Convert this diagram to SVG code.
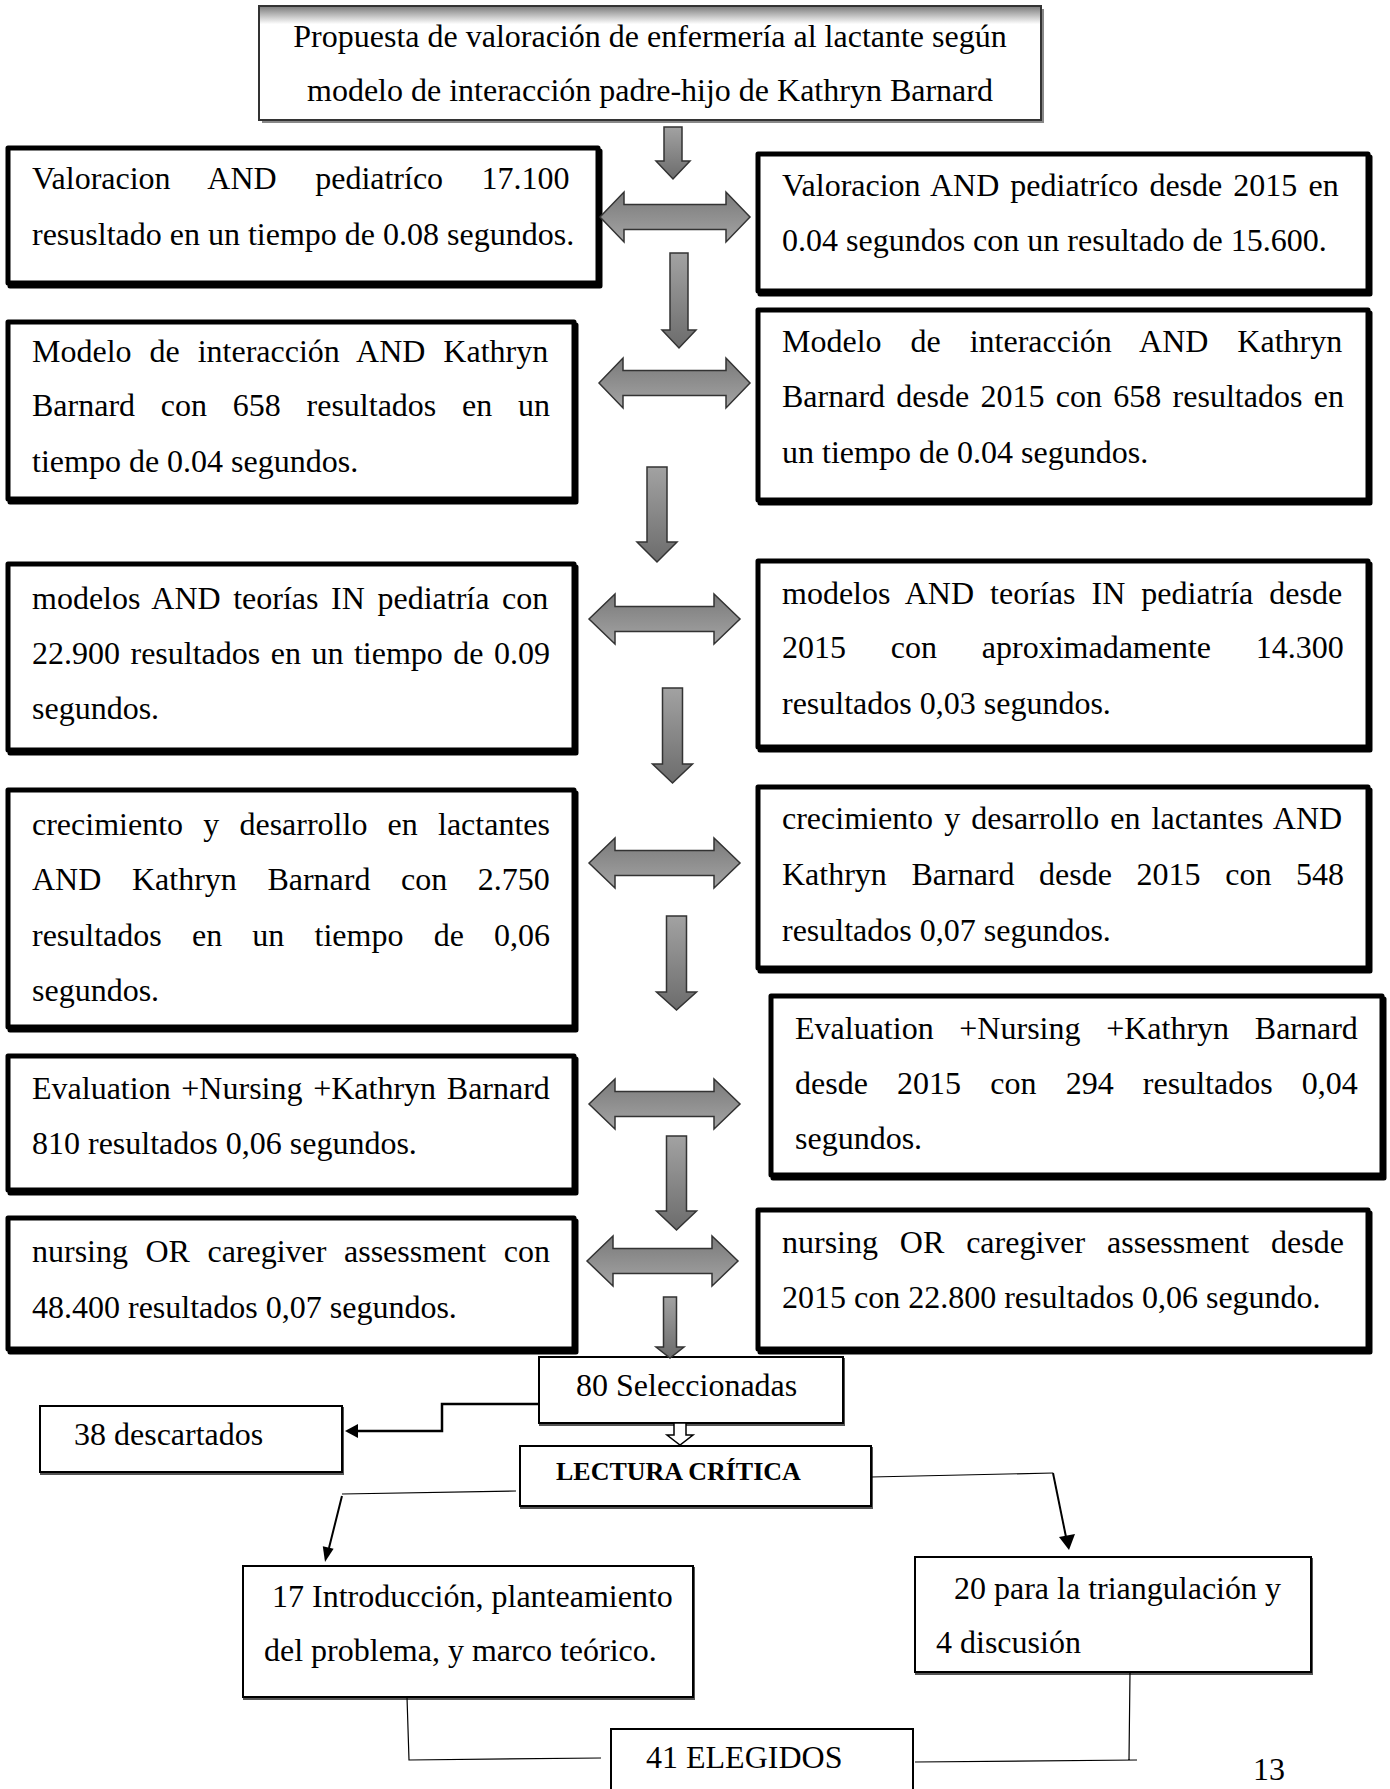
<svg xmlns="http://www.w3.org/2000/svg" width="1390" height="1789" viewBox="0 0 1390 1789">
<defs>
<linearGradient id="gv" x1="0" y1="0" x2="0" y2="1"><stop offset="0" stop-color="#a2a2a2"/><stop offset="1" stop-color="#6c6c6c"/></linearGradient>
<linearGradient id="gh" x1="0" y1="0" x2="0" y2="1"><stop offset="0" stop-color="#7a7a7a"/><stop offset="1" stop-color="#a4a4a4"/></linearGradient>
<linearGradient id="gtop" x1="0" y1="0" x2="0" y2="1"><stop offset="0" stop-color="#7a7a7a"/><stop offset="0.16" stop-color="#ffffff"/><stop offset="1" stop-color="#ffffff"/></linearGradient>
</defs>
<style>
.t{font-family:"Liberation Serif","Times New Roman",serif;font-size:32px;fill:#000}
.tbold{font-family:"Liberation Serif","Times New Roman",serif;font-size:26px;font-weight:bold;fill:#000}
.b{fill:#fff;stroke:#000;stroke-width:5;stroke-linejoin:round}
.sh{fill:none;stroke:#000;stroke-width:5;stroke-linejoin:round}
.tb{fill:#fff;stroke:#000;stroke-width:2}
.tsh{fill:none;stroke:#555;stroke-width:2}
.ar{fill:url(#gv);stroke:#333;stroke-width:1.5}
.da{fill:url(#gh);stroke:#333;stroke-width:1.5}
.ln{fill:none;stroke:#000;stroke-width:1.2}
.lna{fill:none;stroke:#000;stroke-width:2}
.lnb{fill:none;stroke:#000;stroke-width:2.5}
.hd{fill:#000}
</style>

<g id="title">
<rect x="262" y="9" width="782" height="114" fill="#888"/>
<rect x="259" y="6" width="782" height="114" fill="url(#gtop)" stroke="#333" stroke-width="2"/>
<text class="t" x="650" y="47" text-anchor="middle">Propuesta de valoración de enfermería al lactante según</text>
<text class="t" x="650" y="101" text-anchor="middle">modelo de interacción padre-hijo de Kathryn Barnard</text>
</g>

<g id="L1">
<rect class="sh" x="10" y="151" width="590" height="135"/>
<rect class="b" x="8" y="148" width="590" height="135"/>
<text class="t" x="32" y="189" word-spacing="30.5">Valoracion AND pediatríco 17.100</text>
<text class="t" x="32" y="245">resusltado en un tiempo de 0.08 segundos.</text>
</g>
<g id="R1">
<rect class="sh" x="760" y="157" width="610" height="137"/>
<rect class="b" x="758" y="154" width="610" height="137"/>
<text class="t" x="782" y="196" word-spacing="3.1">Valoracion AND pediatríco desde 2015 en</text>
<text class="t" x="782" y="251">0.04 segundos con un resultado de 15.600.</text>
</g>
<g id="L2">
<rect class="sh" x="10" y="325" width="566" height="177"/>
<rect class="b" x="8" y="322" width="566" height="177"/>
<text class="t" x="32" y="362" word-spacing="9.97">Modelo de interacción AND Kathryn</text>
<text class="t" x="32" y="416" word-spacing="17.76">Barnard con 658 resultados en un</text>
<text class="t" x="32" y="472">tiempo de 0.04 segundos.</text>
</g>
<g id="R2">
<rect class="sh" x="760" y="313" width="610" height="190"/>
<rect class="b" x="758" y="310" width="610" height="190"/>
<text class="t" x="782" y="352" word-spacing="20.97">Modelo de interacción AND Kathryn</text>
<text class="t" x="782" y="407" word-spacing="3.3">Barnard desde 2015 con 658 resultados en</text>
<text class="t" x="782" y="463">un tiempo de 0.04 segundos.</text>
</g>
<g id="L3">
<rect class="sh" x="10" y="567" width="566" height="186"/>
<rect class="b" x="8" y="564" width="566" height="186"/>
<text class="t" x="32" y="609" word-spacing="4.6">modelos AND teorías IN pediatría con</text>
<text class="t" x="32" y="664" word-spacing="2.5">22.900 resultados en un tiempo de 0.09</text>
<text class="t" x="32" y="719">segundos.</text>
</g>
<g id="R3">
<rect class="sh" x="760" y="564" width="610" height="186"/>
<rect class="b" x="758" y="561" width="610" height="186"/>
<text class="t" x="782" y="604" word-spacing="8.06">modelos AND teorías IN pediatría desde</text>
<text class="t" x="782" y="658" word-spacing="36.8">2015 con aproximadamente 14.300</text>
<text class="t" x="782" y="714">resultados 0,03 segundos.</text>
</g>
<g id="L4">
<rect class="sh" x="10" y="793" width="566" height="237"/>
<rect class="b" x="8" y="790" width="566" height="237"/>
<text class="t" x="32" y="835" word-spacing="12.2">crecimiento y desarrollo en lactantes</text>
<text class="t" x="32" y="890" word-spacing="22.6">AND Kathryn Barnard con 2.750</text>
<text class="t" x="32" y="946" word-spacing="22.2">resultados en un tiempo de 0,06</text>
<text class="t" x="32" y="1001">segundos.</text>
</g>
<g id="R4">
<rect class="sh" x="760" y="790" width="610" height="181"/>
<rect class="b" x="758" y="787" width="610" height="181"/>
<text class="t" x="782" y="829" word-spacing="3.1">crecimiento y desarrollo en lactantes AND</text>
<text class="t" x="782" y="885" word-spacing="16.6">Kathryn Barnard desde 2015 con 548</text>
<text class="t" x="782" y="941">resultados 0,07 segundos.</text>
</g>
<g id="L5">
<rect class="sh" x="10" y="1059" width="566" height="134"/>
<rect class="b" x="8" y="1056" width="566" height="134"/>
<text class="t" x="32" y="1099" word-spacing="2.7">Evaluation +Nursing +Kathryn Barnard</text>
<text class="t" x="32" y="1154">810 resultados 0,06 segundos.</text>
</g>
<g id="R5">
<rect class="sh" x="773" y="999" width="611" height="179"/>
<rect class="b" x="771" y="996" width="611" height="179"/>
<text class="t" x="795" y="1039" word-spacing="17.7">Evaluation +Nursing +Kathryn Barnard</text>
<text class="t" x="795" y="1094" word-spacing="21.2">desde 2015 con 294 resultados 0,04</text>
<text class="t" x="795" y="1149">segundos.</text>
</g>
<g id="L6">
<rect class="sh" x="10" y="1221" width="566" height="131"/>
<rect class="b" x="8" y="1218" width="566" height="131"/>
<text class="t" x="32" y="1262" word-spacing="9.5">nursing OR caregiver assessment con</text>
<text class="t" x="32" y="1318">48.400 resultados 0,07 segundos.</text>
</g>
<g id="R6">
<rect class="sh" x="760" y="1213" width="610" height="139"/>
<rect class="b" x="758" y="1210" width="610" height="139"/>
<text class="t" x="782" y="1253" word-spacing="13.85">nursing OR caregiver assessment desde</text>
<text class="t" x="782" y="1308">2015 con 22.800 resultados 0,06 segundo.</text>
</g>

<g id="seleccionadas">
<rect class="tsh" x="540" y="1359" width="304" height="66"/>
<rect class="tb" x="539" y="1357" width="304" height="66"/>
<text class="t" x="576" y="1396">80 Seleccionadas</text>
</g>
<g id="descartados">
<rect class="tsh" x="41" y="1408" width="302" height="66"/>
<rect class="tb" x="40" y="1406" width="302" height="66"/>
<text class="t" x="74" y="1445">38 descartados</text>
</g>
<g id="lectura">
<rect class="tsh" x="521" y="1448" width="351" height="60"/>
<rect class="tb" x="520" y="1446" width="351" height="60"/>
<text class="tbold" x="556" y="1480">LECTURA CRÍTICA</text>
</g>
<g id="introduccion">
<rect class="tsh" x="244" y="1568" width="450" height="131"/>
<rect class="tb" x="243" y="1566" width="450" height="131"/>
<text class="t" x="272" y="1607">17 Introducción, planteamiento</text>
<text class="t" x="264" y="1661">del problema, y marco teórico.</text>
</g>
<g id="triangulacion">
<rect class="tsh" x="916" y="1559" width="396" height="115"/>
<rect class="tb" x="915" y="1557" width="396" height="115"/>
<text class="t" x="954" y="1599">20 para la triangulación y</text>
<text class="t" x="936" y="1653">4 discusión</text>
</g>
<g id="elegidos">
<rect class="tb" x="611" y="1729" width="302" height="80"/>
<text class="t" x="646" y="1768">41 ELEGIDOS</text>
</g>
<g id="page">
<text class="t" x="1253" y="1780">13</text>
</g>

<g id="connectors">
<path class="ar" d="M664 127 H682 V161 H690 L673 179 L656 161 H664 Z"/>
<path class="ar" d="M670 253 H688 V330 H696 L679 348 L662 330 H670 Z"/>
<path class="ar" d="M647 467 H667 V542 H677 L657 562 L637 542 H647 Z"/>
<path class="ar" d="M662.5 688 H682.5 V764 H692.5 L672.5 783 L652.5 764 H662.5 Z"/>
<path class="ar" d="M666.5 916 H686.5 V992 H696.5 L676.5 1010 L656.5 992 H666.5 Z"/>
<path class="ar" d="M666.5 1136 H686.5 V1211 H696.5 L676.5 1230 L656.5 1211 H666.5 Z"/>
<path class="ar" d="M663.5 1297 H676.5 V1347 H684 L670 1358 L656 1347 H663.5 Z"/>

<path class="da" d="M600 217 L624 192 V204.5 H726 V192 L750 217 L726 242 V229.5 H624 V242 Z"/>
<path class="da" d="M599 383 L623 358 V370.5 H726 V358 L750 383 L726 408 V395.5 H623 V408 Z"/>
<path class="da" d="M589 619 L615 594 V606.5 H714 V594 L740 619 L714 644 V631.5 H615 V644 Z"/>
<path class="da" d="M589 863 L615 838 V850.5 H714 V838 L740 863 L714 888 V875.5 H615 V888 Z"/>
<path class="da" d="M589 1104 L615 1079 V1091.5 H714 V1079 L740 1104 L714 1129 V1116.5 H615 V1129 Z"/>
<path class="da" d="M587 1261 L613 1236 V1248.5 H712 V1236 L738 1261 L712 1286 V1273.5 H613 V1286 Z"/>

<path d="M674 1423 H686 V1435 H693 L680 1445 L667 1435 H674 Z" fill="#fff" stroke="#000" stroke-width="1.5"/>

<path class="lnb" d="M539 1404 H442 V1431 H356"/>
<polygon class="hd" points="345,1431 358,1424 358,1438"/>

<path class="ln" d="M516 1491 L342 1494"/>
<path class="lna" d="M342 1496 L329 1548"/>
<polygon class="hd" points="325,1562 333.6,1548.7 322.8,1546.2"/>

<path class="ln" d="M871 1477 L1053 1473"/>
<path class="lna" d="M1053 1473 L1066 1537"/>
<polygon class="hd" points="1069,1550 1075,1534 1059,1537"/>

<path class="ln" d="M407 1697 L409 1760 L601 1758"/>
<path class="ln" d="M1130 1672 L1129 1760 M915 1762 L1137 1760"/>
</g>
</svg>
